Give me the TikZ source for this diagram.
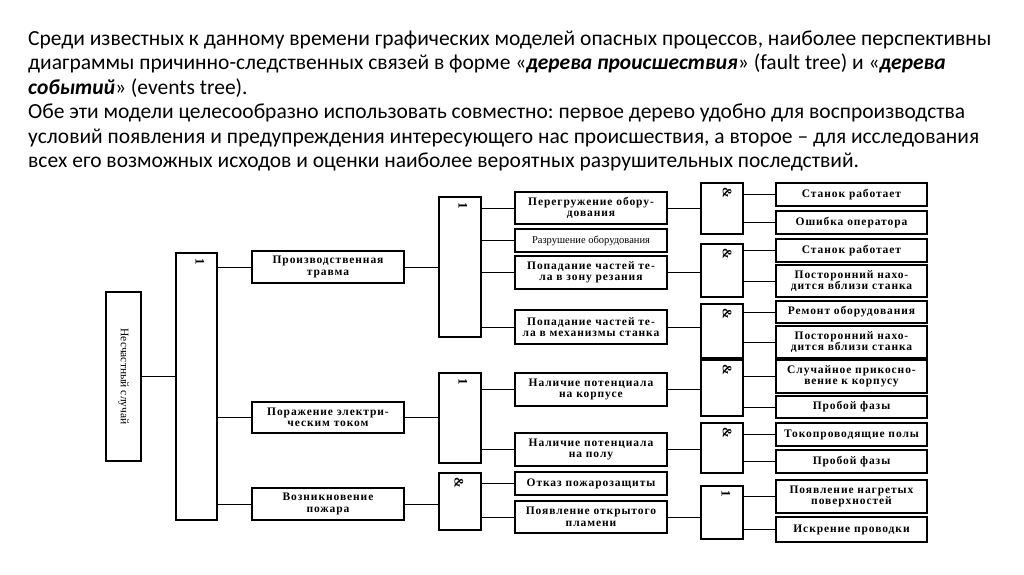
\documentclass[tikz,border=0pt]{standalone}
\usepackage{fontspec}
\setmainfont{Liberation Serif}
\newfontfamily\hdfont{Carlito}
\newfontfamily\boxfont{Liberation Serif}[LetterSpace=8]
\newfontfamily\plainfont{Liberation Serif}
\frenchspacing
\begin{document}
\begin{tikzpicture}[x=1pt,y=-1pt,
  bx/.style 2 args={draw, line width=1.1pt, inner sep=0pt, align=center,
    minimum width=#1pt, minimum height=#2pt,
    font=\boxfont\bfseries\fontsize{11.5}{11.5}\selectfont},
  gate/.style 2 args={draw, line width=1.1pt, inner sep=0pt,
    minimum width=#1pt, minimum height=#2pt},
  wire/.style={line width=0.9pt},
  sym/.style={font=\plainfont\bfseries\fontsize{13}{13}\selectfont, inner sep=0pt, rotate=-90},
  hd/.style={anchor=base west, inner sep=0pt, font=\hdfont\fontsize{21.5}{24}\selectfont}]
\useasboundingbox (0,0) rectangle (1024,574);
\fill[white] (0,0) rectangle (1024,574);

% header text
\node[hd] (t1) at (28,45) {Среди известных к данному времени графических моделей опасных процессов, наиболее перспективны};
\node[hd] (t2) at (28,69.5) {диаграммы причинно-следственных связей в форме «\textbf{\textit{дерева происшествия}}» (fault tree) и «\textbf{\textit{дерева}}};
\node[hd] (t3) at (28,94) {\textbf{\textit{событий}}» (events tree).};
\node[hd] (t4) at (28,118.5) {Обе эти модели целесообразно использовать совместно: первое дерево удобно для воспроизводства};
\node[hd] (t5) at (28,143) {условий появления и предупреждения интересующего нас происшествия, а второе – для исследования};
\node[hd] (t6) at (28,167.5) {всех его возможных исходов и оценки наиболее вероятных разрушительных последствий.};
\fill[white] (20,171) rectangle (1004,177);

% main event
\node[draw, line width=1.1pt, minimum width=35pt, minimum height=169pt, inner sep=0pt] (m) at (123.5,376.5) {};
\node[rotate=-90, font=\plainfont\fontsize{11.5}{12}\selectfont, inner sep=0pt] (mt) at (m.center) {Несчастный случай};

% gates
\node[gate={41}{267}] (g0) at (196.5,386.5) {};
\node[gate={42}{140}] (g1) at (460,267) {};
\node[gate={42}{90}] (g2) at (460,418) {};
\node[gate={42}{57}] (g3) at (460,501.5) {};
\node[gate={42}{51}] (ga) at (722,208.5) {};
\node[gate={42}{53}] (gb) at (722,270.5) {};
\node[gate={42}{54}] (gc) at (722,331) {};
\node[gate={42}{56}] (gd) at (722,388) {};
\node[gate={42}{50}] (ge) at (722,448) {};
\node[gate={42}{53}] (gf) at (722,512.5) {};

% gate symbols
\node[sym] (s0) at ([xshift=3.5pt,yshift=-9pt]g0.north) {1};
\node[sym] (s1) at ([xshift=3pt,yshift=-9pt]g1.north) {1};
\node[sym] (s2) at ([xshift=3pt,yshift=-9pt]g2.north) {1};
\node[sym] (s3) at ([xshift=-1pt,yshift=-10pt]g3.north) {\&};
\node[sym] (sa) at ([xshift=5pt,yshift=-10pt]ga.north) {\&};
\node[sym] (sb) at ([xshift=5pt,yshift=-10pt]gb.north) {\&};
\node[sym] (sc) at ([xshift=5pt,yshift=-10pt]gc.north) {\&};
\node[sym] (sd) at ([xshift=5pt,yshift=-10pt]gd.north) {\&};
\node[sym] (se) at ([xshift=5pt,yshift=-10pt]ge.north) {\&};
\node[sym] (sf) at ([xshift=4pt,yshift=-8pt]gf.north) {1};

% level 1
\node[bx={152}{32}] (p1) at (328,267) {Производственная\\травма};
\node[bx={152}{31}] (p2) at (328,417.5) {Поражение электри-\\ческим током};
\node[bx={152}{32}] (p3) at (328,504) {Возникновение\\пожара};

% level 2
\node[bx={152}{32}] (q1) at (591,208) {Перегружение обору-\\дования};
\node[bx={152}{23}, font=\plainfont\fontsize{10.5}{11}\selectfont] (q2) at (591,240.5) {Разрушение оборудования};
\node[bx={152}{33}] (q3) at (591,272.5) {Попадание частей те-\\ла в зону резания};
\node[bx={152}{34}] (q4) at (591,327) {Попадание частей те-\\ла в механизмы станка};
\node[bx={152}{33}] (q5) at (591,389.5) {Наличие потенциала\\на корпусе};
\node[bx={152}{33}] (q6) at (591,449.5) {Наличие потенциала\\на полу};
\node[bx={152}{23}] (q7) at (591,483.5) {Отказ пожарозащиты};
\node[bx={152}{32}] (q8) at (591,517) {Появление открытого\\пламени};

% level 3
\node[bx={151}{23}] (r1) at (851.5,194.5) {Станок работает};
\node[bx={151}{23}] (r2) at (851.5,222.5) {Ошибка оператора};
\node[bx={151}{23}] (r3) at (851.5,250.5) {Станок работает};
\node[bx={151}{32}] (r4) at (851.5,281) {Посторонний нахо-\\дится вблизи станка};
\node[bx={151}{22}] (r5) at (851.5,312) {Ремонт оборудования};
\node[bx={151}{32}] (r6) at (851.5,342) {Посторонний нахо-\\дится вблизи станка};
\node[bx={151}{33}] (r7) at (851.5,376.5) {Случайное прикосно-\\вение к корпусу};
\node[bx={151}{22}] (r8) at (851.5,407) {Пробой фазы};
\node[bx={151}{23}] (r9) at (851.5,434.5) {Токопроводящие полы};
\node[bx={151}{23}] (r10) at (851.5,461.5) {Пробой фазы};
\node[bx={151}{33}] (r11) at (851.5,496.5) {Появление нагретых\\поверхностей};
\node[bx={151}{25}] (r12) at (851.5,529.5) {Искрение проводки};

% connectors
\draw[wire] (m.east) -- (m.east -| g0.west);
\foreach \b in {p1,p2,p3} \draw[wire] (g0.east |- \b.west) -- (\b.west);
\draw[wire] (p1.east) -- (p1.east -| g1.west);
\draw[wire] (p2.east) -- (p2.east -| g2.west);
\draw[wire] (p3.east) -- (p3.east -| g3.west);
\foreach \b in {q1,q2,q3,q4} \draw[wire] (g1.east |- \b.west) -- (\b.west);
\foreach \b in {q5,q6} \draw[wire] (g2.east |- \b.west) -- (\b.west);
\foreach \b in {q7,q8} \draw[wire] (g3.east |- \b.west) -- (\b.west);
\draw[wire] (q1.east) -- (q1.east -| ga.west);
\draw[wire] (q3.east) -- (q3.east -| gb.west);
\draw[wire] (q4.east) -- (q4.east -| gc.west);
\draw[wire] (q5.east) -- (q5.east -| gd.west);
\draw[wire] (q6.east) -- (q6.east -| ge.west);
\draw[wire] (q8.east) -- (q8.east -| gf.west);
\foreach \g/\b in {ga/r1,ga/r2,gb/r3,gb/r4,gc/r5,gc/r6,gd/r7,gd/r8,ge/r9,ge/r10,gf/r11,gf/r12}
  \draw[wire] (\g.east |- \b.west) -- (\b.west);
\end{tikzpicture}
\end{document}
